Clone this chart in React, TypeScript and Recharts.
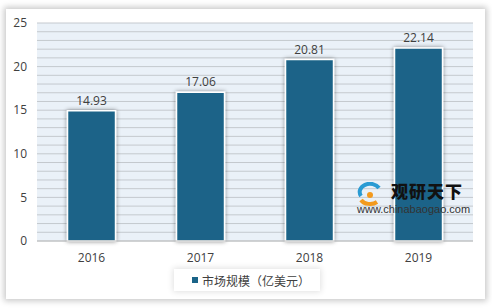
import { Bar, BarChart, CartesianGrid, LabelList, Legend, XAxis, YAxis } from 'recharts'

const years = ['2016', '2017', '2018', '2019']
const marketSize = [14.93, 17.06, 20.81, 22.14]
const yLabels = [0, 5, 10, 15, 20, 25]
const gridValues = [0, 1, 2, 3, 4, 5, 6, 7, 8, 9, 10, 11, 12, 13, 14, 15, 16, 17, 18, 19, 20, 21, 22, 23, 24, 25]
const seriesName = '市场规模（亿美元）'

const BAR_COLOR = '#1a6488'
const TEXT_COLOR = '#404040'
const NUM_FONT = '"Open Sans", "Noto Sans", sans-serif'

const data = years.map((year, i) => ({ year, value: marketSize[i] }))

// every gridline is a tick, but only multiples of five get a label
function YTick(props: any) {
  const { x, y, payload } = props
  if (!yLabels.includes(payload.value)) return <g />
  return (
    <text x={x} y={y} dy="0.35em" textAnchor="end" fill={TEXT_COLOR} fontSize={12} fontFamily={NUM_FONT}>
      {payload.value}
    </text>
  )
}

function LegendBox() {
  return (
    <div
      style={{
        width: 128,
        height: 22,
        background: '#fff',
        boxShadow: '0 0 6px 1px rgba(0,0,0,0.12)',
        display: 'flex',
        alignItems: 'center',
        paddingLeft: 18,
        fontFamily: '"Noto Sans CJK SC", sans-serif',
        fontSize: 12,
        color: TEXT_COLOR,
      }}
    >
      <span style={{ width: 6, height: 6, background: BAR_COLOR, marginRight: 4, display: 'inline-block' }} />
      {seriesName}
    </div>
  )
}

export default function App() {
  return (
    <div style={{ position: 'absolute', left: 0, top: 0, width: 492, height: 308, background: '#fff', overflow: 'hidden' }}>
      <div
        style={{
          position: 'absolute',
          left: 6,
          top: 9,
          width: 479,
          height: 290,
          background: '#fff',
          boxShadow: '0 0 6px 2px rgba(0,0,0,0.22)',
        }}
      />
      <div style={{ position: 'absolute', left: 0, top: 0 }}>
        <BarChart
          width={492}
          height={308}
          data={data}
          margin={{ top: 23, right: 19, bottom: 37, left: 0 }}
          barCategoryGap="28%"
        >
          <defs>
            <filter id="barShadow" x="-30%" y="-30%" width="160%" height="160%">
              <feDropShadow dx="0" dy="0" stdDeviation="2.2" floodColor="#000" floodOpacity="0.45" />
            </filter>
          </defs>
          <CartesianGrid vertical={false} stroke="#c4c9ce" fill="#eaf1f8" />
          <XAxis
            dataKey="year"
            tickLine={false}
            axisLine={{ stroke: '#bfbfbf' }}
            tickMargin={6}
            tick={{ fill: TEXT_COLOR, fontSize: 12, fontFamily: NUM_FONT }}
          />
          <YAxis
            width={37}
            domain={[0, 25]}
            ticks={gridValues}
            interval={0}
            tickLine={false}
            axisLine={false}
            tickMargin={4}
            tick={<YTick />}
          />
          <Legend
            layout="horizontal"
            verticalAlign="middle"
            align="center"
            wrapperStyle={{ top: 269, left: 174, width: 'auto' }}
            content={() => <LegendBox />}
          />
          <Bar
            dataKey="value"
            name={seriesName}
            fill={BAR_COLOR}
            stroke="#ffffff"
            strokeWidth={1.5}
            filter="url(#barShadow)"
            isAnimationActive={false}
          >
            <LabelList
              dataKey="value"
              position="top"
              offset={6}
              fill={TEXT_COLOR}
              fontSize={12}
              fontFamily={NUM_FONT}
            />
          </Bar>
        </BarChart>
      </div>
      <div style={{ position: 'absolute', left: 357, top: 180, width: 110, height: 40, pointerEvents: 'none' }}>
        <svg width={28} height={24} style={{ position: 'absolute', left: 0, top: 2 }}>
          <path d="M4 14 A10 8 0 0 1 22 6" stroke="#2a9bd3" strokeWidth={4} fill="none" />
          <path d="M4 18 A10 7 0 0 0 20 20" stroke="#f39a1e" strokeWidth={4} fill="none" />
          <circle cx={13} cy={13} r={3} fill="#f39a1e" />
        </svg>
        <div
          style={{
            position: 'absolute',
            left: 34,
            top: 0,
            fontFamily: '"Noto Sans CJK SC", sans-serif',
            fontWeight: 900,
            fontSize: 17,
            letterSpacing: 1,
            color: '#111',
            lineHeight: '22px',
          }}
        >
          观研天下
        </div>
        <div
          style={{
            position: 'absolute',
            left: 0,
            top: 23,
            fontFamily: '"Liberation Sans", Arial, sans-serif',
            fontSize: 11,
            color: '#333',
            lineHeight: '13px',
            whiteSpace: 'nowrap',
          }}
        >
          www.chinabaogao.com
        </div>
      </div>
    </div>
  )
}
